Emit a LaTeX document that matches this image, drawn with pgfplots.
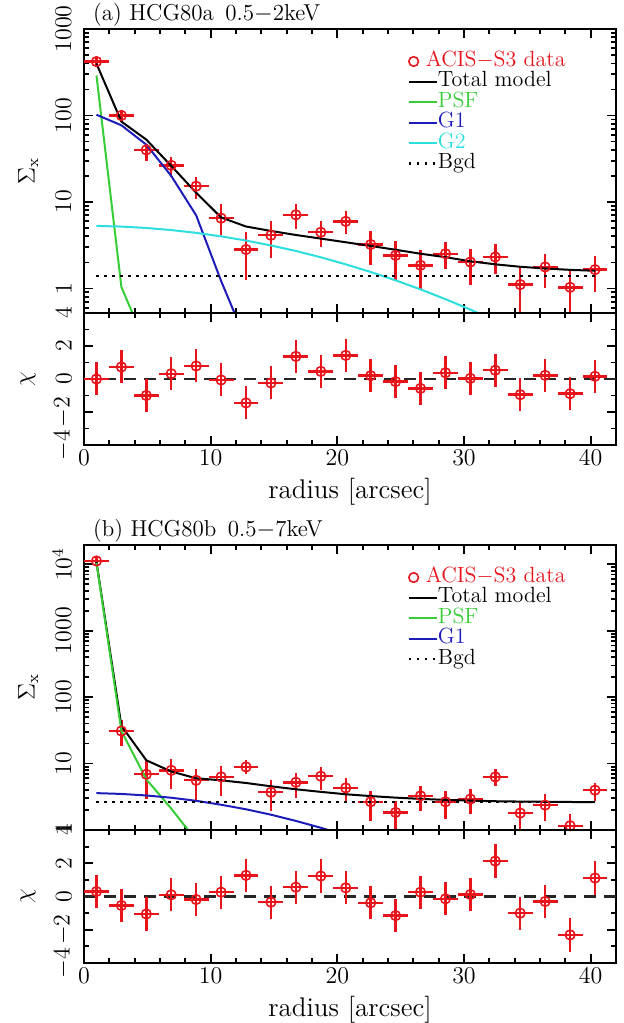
\documentclass[border=0pt]{standalone}
\usepackage{pgfplots}
\pgfplotsset{compat=1.18}
\usepackage{pgfplotstable}
\definecolor{dred}{RGB}{232,20,28}
\definecolor{pgreen}{RGB}{55,205,55}
\definecolor{pblue}{RGB}{28,28,185}
\definecolor{pcyan}{RGB}{45,222,222}

\pgfplotstableread{
x y ex eyp eym chi
0.984 420 0.984 60 55 0.00
2.952 100 0.984 17 16 0.73
4.920 40 0.984 7 10.5 -1.00
6.888 26.5 0.984 6.5 7 0.32
8.856 15.2 0.984 4.2 4.3 0.79
10.824 6.5 0.984 3.0 2.4 -0.06
12.792 2.82 0.984 1.7 1.57 -1.45
14.760 4.12 0.984 1.9 1.9 -0.24
16.728 7.1 0.984 2.3 2.2 1.37
18.696 4.46 0.984 1.6 1.46 0.46
20.664 5.96 0.984 1.9 1.7 1.43
22.632 3.22 0.984 1.43 1.37 0.20
24.600 2.41 0.984 1.16 1.16 -0.16
26.568 1.85 0.984 0.9 0.89 -0.57
28.536 2.52 0.984 0.96 0.83 0.38
30.504 2.02 0.984 0.85 0.93 0.04
32.472 2.31 0.984 0.96 0.83 0.53
34.440 1.11 0.984 0.66 0.70 -0.95
36.408 1.77 0.984 0.75 0.77 0.22
38.376 1.03 0.984 0.59 0.60 -0.89
40.344 1.65 0.984 0.70 0.74 0.16
}\dataA

\pgfplotstableread{
x y ex eyp eym chi
0.984 11200 0.984 1500 1300 0.30
2.952 30.9 0.984 15 12.5 -0.54
4.920 6.9 0.984 4.1 4.0 -1.05
6.888 7.9 0.984 3.7 3.8 0.10
8.856 5.6 0.984 2.6 3.0 -0.18
10.824 6.3 0.984 2.9 3.0 0.26
12.792 8.9 0.984 2.5 2.0 1.27
14.760 3.7 0.984 2.0 1.8 -0.34
16.728 5.22 0.984 2.0 2.2 0.56
18.696 6.45 0.984 2.35 2.4 1.23
20.664 4.3 0.984 1.8 1.6 0.52
22.632 2.66 0.984 1.22 1.28 -0.38
24.600 1.84 0.984 0.91 0.81 -1.15
26.568 3.27 0.984 1.34 1.32 0.26
28.536 2.66 0.984 1.22 1.20 -0.14
30.504 2.92 0.984 1.20 1.18 0.12
32.472 6.3 0.984 1.9 1.7 2.13
34.440 1.8 0.984 0.8 0.8 -1.00
36.408 2.37 0.984 1.1 1.0 -0.30
38.376 1.16 0.984 0.58 0.60 -2.31
40.344 3.98 0.984 1.2 1.23 1.11
}\dataB

\pgfplotstableread{
x tot
0.984 398
2.952 85
4.920 52.6
6.888 26.1
8.856 12.8
10.824 6.62
12.792 5.2
14.760 4.62
16.728 4.15
18.696 3.77
20.664 3.42
22.632 3.10
24.600 2.80
26.568 2.52
28.536 2.30
30.504 2.06
32.472 1.90
34.440 1.78
36.408 1.70
38.376 1.64
40.344 1.60
}\totA

\pgfplotstableread{
x g
0.984 5.29
2.952 5.19
4.920 5.00
6.888 4.73
8.856 4.39
10.824 4.00
12.792 3.58
14.760 3.14
16.728 2.71
18.696 2.29
20.664 1.90
22.632 1.55
24.600 1.24
26.568 0.975
28.536 0.752
30.504 0.569
32.472 0.423
}\gtwoA

\pgfplotstableread{
x tot
0.984 10800
2.952 37
4.920 11.2
6.888 7.6
8.856 6.0
10.824 5.6
12.792 5.1
14.760 4.55
16.728 4.1
18.696 3.75
20.664 3.45
22.632 3.24
24.600 3.07
26.568 2.94
28.536 2.84
30.504 2.77
32.472 2.71
34.440 2.68
36.408 2.66
38.376 2.64
40.344 2.63
}\totB

\pgfplotstableread{
x g
0.984 3.59
2.952 3.49
4.920 3.31
6.888 3.06
8.856 2.75
10.824 2.40
12.792 2.05
14.760 1.70
16.728 1.37
18.696 1.08
20.664 0.83
}\goneB

\pgfplotsset{
  myBase/.style={
    scale only axis, width=266pt,
    xmin=0, xmax=42, xtick={0,10,20,30,40}, minor x tick num=4,
    tick align=inside, major tick length=4.5pt, minor tick length=2.6pt,
    every tick/.append style={black, line width=0.9pt},
    axis line style={line width=1pt},
    tick label style={font=\fontsize{12}{14}\selectfont},
    yticklabel style={rotate=90, anchor=south, inner sep=6pt},
    every axis y label/.style={at={(axis description cs:-0.105,0.5)}, rotate=90, anchor=center,
      font=\fontsize{11.5}{14}\selectfont},
  },
  myTop/.style={
    xticklabels={},
    ylabel={$\Sigma_{\mathrm{x}}$},
    every axis title/.style={at={(axis description cs:0,1)}, anchor=base west, yshift=4pt, xshift=1pt,
      font=\fontsize{11.5}{14}\selectfont},
    legend style={at={(axis description cs:0.596,0.937)}, anchor=north west, draw=none, fill=none,
      column sep=0pt, row sep=0pt,
      nodes={inner sep=0pt, text height=7.6pt, text depth=2.6pt},
      font=\fontsize{11}{12}\selectfont},
    legend cell align=left,
  },
  myChi/.style={
    ymin=-4, ymax=4, ytick={-4,-2,0,2,4}, minor ytick={-3,-1,1,3},
    ylabel={$\chi$}, xlabel={radius [arcsec]},
    every axis x label/.style={at={(axis description cs:0.5,0)}, anchor=center, yshift=-23.5pt,
      font=\fontsize{13.5}{15}\selectfont},
    xticklabel style={inner sep=2.5pt},
  },
  lineleg/.style={legend image code/.code={\draw[##1] (0pt,0pt) -- (14pt,0pt);}},
  dotleg/.style={legend image code/.code={\draw[dred, line width=0.8pt] (2.5pt,0pt) circle (2.4pt);}},
  myData/.style={only marks, mark=o, mark size=2.4pt, color=dred,
    mark options={dred, line width=0.8pt},
    error bars/.cd, x dir=both, x explicit, y dir=both, y explicit,
    error mark=none, error bar style={line width=1.2pt, dred}},
  myChiData/.style={only marks, mark=o, mark size=2.4pt, color=dred,
    mark options={dred, line width=0.8pt},
    error bars/.cd, x dir=both, x explicit, y dir=both, y fixed=1,
    error mark=none, error bar style={line width=1.2pt, dred}},
}

\begin{document}
\begin{tikzpicture}
\path[use as bounding box] (0,0) rectangle (311.5pt,511.5pt);

% ---------- panel (a) ----------
\begin{axis}[ymode=log, myBase, myTop, height=142pt, at={(42pt,497pt)}, anchor=north west,
  ymin=0.52, ymax=1000, ytick={1,10,100,1000}, yticklabels={1,10,100,1000},
  minor ytick={0.6,0.7,0.8,0.9,2,3,4,5,6,7,8,9,20,30,40,50,60,70,80,90,200,300,400,500,600,700,800,900},
  title={(a) HCG80a\ \,0.5$-$2keV}]
\addplot[dotleg, myData]
  table[x=x, y=y, x error=ex, y error plus=eyp, y error minus=eym] {\dataA};
\addlegendentry{\hspace{-6pt}\textcolor{dred}{ACIS$-$S3 data}}
\addplot[lineleg, black, line width=1pt] table[x=x, y=tot] {\totA};
\addlegendentry{Total model}
\addplot[lineleg, pgreen, line width=1pt] coordinates {(0.984,290) (2.952,1.04) (4.920,0.217) (6.888,0.02)};
\addlegendentry{\textcolor{pgreen}{PSF}}
\addplot[lineleg, pblue, line width=1pt] coordinates {(0.984,102) (2.952,77) (4.920,46) (6.888,20) (8.856,7.0) (10.824,1.22) (12.792,0.25)};
\addlegendentry{\textcolor{pblue}{G1}}
\addplot[lineleg, pcyan, line width=1pt] table[x=x, y=g] {\gtwoA};
\addlegendentry{\textcolor{pcyan}{G2}}
\addplot[lineleg, black, line width=1.2pt, dash pattern=on 1.3pt off 2.7pt] coordinates {(0.984,1.4) (40.344,1.4)};
\addlegendentry{Bgd}
\end{axis}

\begin{axis}[myBase, myChi, height=66pt, at={(42pt,355pt)}, anchor=north west]
\addplot[black!85, line width=1.3pt, dash pattern=on 6pt off 4pt] coordinates {(0,0) (42,0)};
\addplot[myChiData] table[x=x, y=chi, x error=ex] {\dataA};
\end{axis}

% ---------- panel (b) ----------
\begin{axis}[ymode=log, myBase, myTop, height=142.5pt, at={(42pt,239pt)}, anchor=north west,
  ymin=1, ymax=19500, ytick={1,10,100,1000,10000}, yticklabels={1,10,100,1000,$10^4$},
  minor ytick={2,3,4,5,6,7,8,9,20,30,40,50,60,70,80,90,200,300,400,500,600,700,800,900,2000,3000,4000,5000,6000,7000,8000,9000},
  title={(b) HCG80b\ \,0.5$-$7keV}]
\addplot[dotleg, myData]
  table[x=x, y=y, x error=ex, y error plus=eyp, y error minus=eym] {\dataB};
\addlegendentry{\hspace{-6pt}\textcolor{dred}{ACIS$-$S3 data}}
\addplot[lineleg, black, line width=1pt] table[x=x, y=tot] {\totB};
\addlegendentry{Total model}
\addplot[lineleg, pgreen, line width=1pt] coordinates {(0.984,10500) (2.952,31) (4.920,5.8) (6.888,2.1) (8.856,0.7)};
\addlegendentry{\textcolor{pgreen}{PSF}}
\addplot[lineleg, pblue, line width=1pt] table[x=x, y=g] {\goneB};
\addlegendentry{\textcolor{pblue}{G1}}
\addplot[lineleg, black, line width=1.2pt, dash pattern=on 1.3pt off 2.7pt] coordinates {(0.984,2.62) (40.344,2.62)};
\addlegendentry{Bgd}
\end{axis}

\begin{axis}[myBase, myChi, height=66.5pt, at={(42pt,96.5pt)}, anchor=north west]
\addplot[black!85, line width=1.3pt, dash pattern=on 6pt off 4pt] coordinates {(0,0) (42,0)};
\addplot[myChiData] table[x=x, y=chi, x error=ex] {\dataB};
\end{axis}
\end{tikzpicture}
\end{document}
